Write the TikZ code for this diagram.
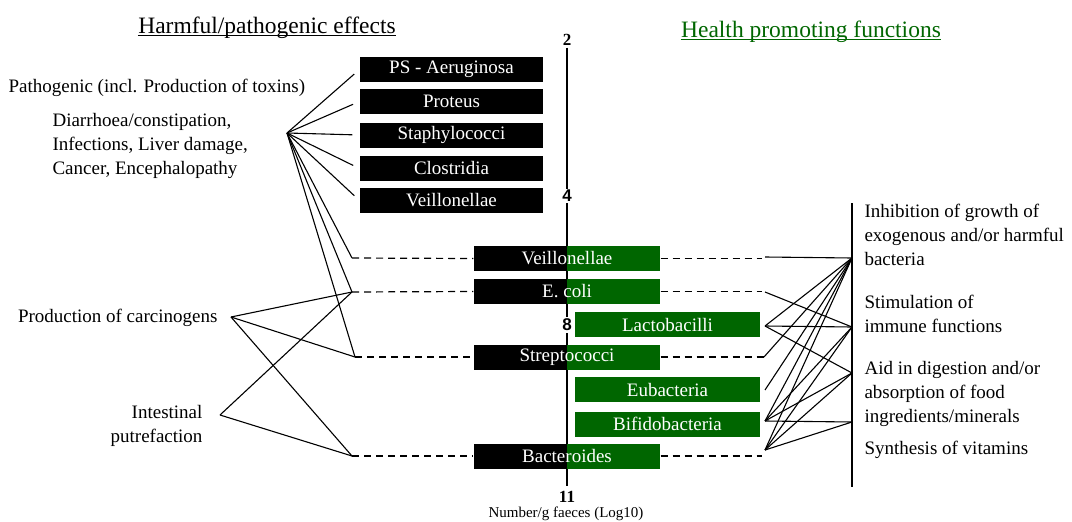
\documentclass[tikz,border=0pt]{standalone}
\usepackage{fontspec}
\setmainfont{Liberation Serif}
\setsansfont{Liberation Sans}
\definecolor{hgreen}{RGB}{0,102,0}
\begin{document}
\begin{tikzpicture}[x=1pt,y=-1pt,line width=1.1pt,
  txt/.style={font=\fontsize{19}{24}\selectfont,inner sep=0pt},
  head/.style={font=\fontsize{23.5}{26}\selectfont,inner sep=0pt,anchor=base},
  bbox/.style={fill=black,text=white,minimum width=183pt,minimum height=25pt,inner sep=0pt,font=\fontsize{19}{24}\selectfont},
  gbox/.style={bbox,fill=hgreen,minimum width=185pt},
  splitbox/.style={bbox,minimum width=186pt,path picture={\fill[hgreen] (path picture bounding box.north) rectangle (path picture bounding box.south east);}},
  dashline/.style={line width=1.2pt,dash pattern=on 7pt off 5pt},
  num/.style={font=\fontsize{17}{17}\selectfont\bfseries,fill=white,inner sep=1.5pt},
  snum/.style={num,font=\fontsize{17}{17}\selectfont\sffamily\bfseries}]
\useasboundingbox (0,0) rectangle (1072,522);

% headings
\node[head] (harm) at (267,33) {Harmful/pathogenic effects};
\draw[line width=1pt] ([yshift=-2pt]harm.base west) -- ([yshift=-2pt]harm.base east);
\node[head,text=hgreen] (health) at (811,37) {Health promoting functions};
\draw[line width=1pt,hgreen] ([yshift=-2pt]health.base west) -- ([yshift=-2pt]health.base east);

% axis
\node[num] (n2) at (567,40) {2};
\node[num] (n11) at (567,497) {11};
\draw (n2.south) -- (567,486);
\node[snum] (n4) at (567,196) {4};
\node[snum] (n8) at (567,325) {8};
\node[font=\fontsize{15}{15}\selectfont,inner sep=0pt] (unit) at (566,514) {Number/g faeces (Log10)};

% harmful bacteria
\node[bbox] (ps) at (451.5,69.5) {PS - Aeruginosa};
\node[bbox] (pro) at (451.5,101.5) {Proteus};
\node[bbox] (sta) at (451.5,135) {Staphylococci};
\node[bbox] (clo) at (451.5,168.5) {Clostridia};
\node[bbox] (vei1) at (451.5,200.5) {Veillonellae};

% both
\node[splitbox] (vei) at (567,258.5) {Veillonellae};
\node[splitbox] (eco) at (567,291.5) {E. coli};
\node[splitbox] (str) at (567,357) {Streptococci};
\node[splitbox] (bac) at (567,456) {Bacteroides};

% health promoting bacteria
\node[gbox] (lac) at (667.5,324.5) {Lactobacilli};
\node[gbox] (eub) at (667.5,389.5) {Eubacteria};
\node[gbox] (bif) at (667.5,424) {Bifidobacteria};

% left texts
\node[txt,anchor=west] (patho) at (8,88) {Pathogenic (incl. Production of toxins)};
\node[txt,anchor=west,align=left] (dis) at (52,146) {Diarrhoea/constipation,\\Infections, Liver damage,\\Cancer, Encephalopathy};
\node[txt,anchor=east] (carc) at (218,318) {Production of carcinogens};
\node[txt,anchor=east,align=right] (putr) at (203,426) {Intestinal\\putrefaction};

% right texts
\node[txt,anchor=west,align=left] (inhib) at (864,235) {Inhibition of growth of\\exogenous and/or harmful\\bacteria};
\node[txt,anchor=west,align=left] (immun) at (864,313.5) {Stimulation of\\immune functions};
\node[txt,anchor=west,align=left] (diges) at (864,394) {Aid in digestion and/or\\absorption of food\\ingredients/minerals};
\node[txt,anchor=west] (vitam) at (864,450) {Synthesis of vitamins};

% hubs
\coordinate (P) at (287,133);
\coordinate (C) at (231,317);
\coordinate (I) at (220,415);
\coordinate (vL) at (352,258);
\coordinate (eL) at (352,292);
\coordinate (sL) at (355,357);
\coordinate (bL) at (352,456);
\coordinate (vR) at (765,257);
\coordinate (eR) at (765,292);
\coordinate (lR) at (765,326);
\coordinate (sR) at (764,357);
\coordinate (uR) at (765,390);
\coordinate (fR) at (765,421);
\coordinate (bR) at (765,450);
\coordinate (bE) at (762,456);
\coordinate (inh) at (852,258);
\coordinate (stim) at (852,327);
\coordinate (aid) at (852,373);
\coordinate (syn) at (852,422);

% dashed
\draw[dashline] (vL) -- (vei.west);
\draw[dashline] (eL) -- (eco.west);
\draw[dashline] (sL) -- (str.west);
\draw[dashline] (bL) -- (bac.west);
\draw[dashline] (vei.east) -- (762,258.5);
\draw[dashline] (eco.east) -- (762,291.5);
\draw[dashline] (str.east) -- (sR);
\draw[dashline] (bac.east) -- (bE);

% left lines
\foreach \b in {ps,pro,sta,clo,vei1}
  \draw[shorten >=7pt] (P) -- (\b.west);
\foreach \e in {vL,eL,sL}
  \draw (P) -- (\e);
\foreach \e in {eL,sL,bL}
  \draw (C) -- (\e);
\draw (I) -- (eL);
\draw (I) -- (bL);

% right bar and lines
\draw (852,203) -- (852,487);
\draw (vR) -- (inh);
\draw (eR) -- (stim);
\foreach \e in {inh,stim,aid}
  \draw (lR) -- (\e);
\draw (sR) -- (inh);
\draw (uR) -- (inh);
\foreach \e in {inh,stim,aid,syn}
  \draw (fR) -- (\e);
\foreach \e in {inh,stim,aid,syn}
  \draw (bR) -- (\e);
\end{tikzpicture}
\end{document}
